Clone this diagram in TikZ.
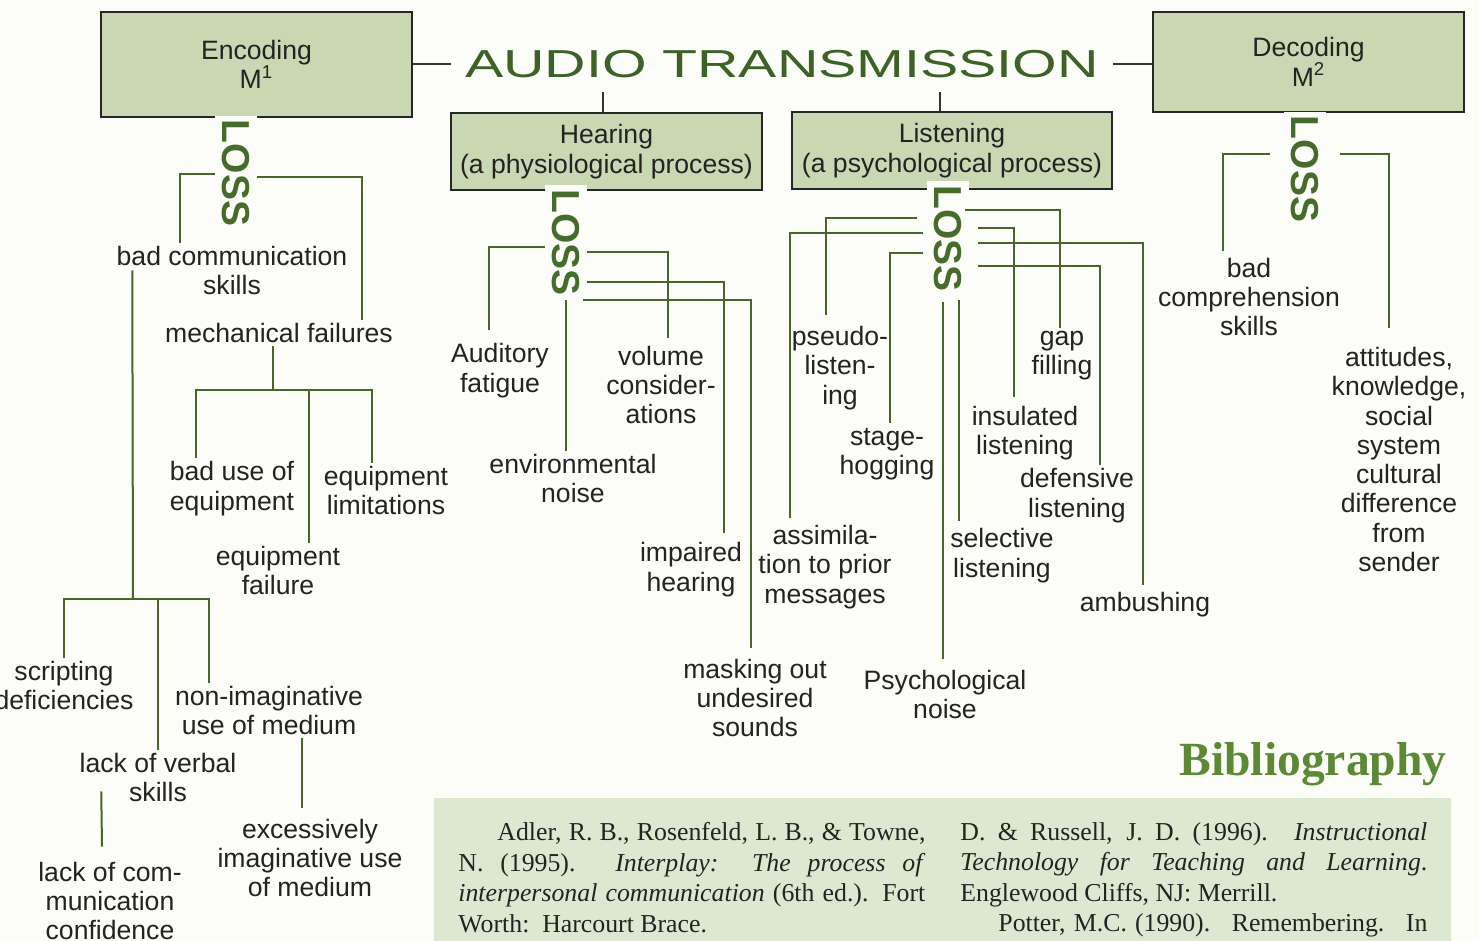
\documentclass[tikz,border=0pt]{standalone}
\usepackage{fontspec}
\setmainfont{Liberation Sans}
\newfontfamily\bibserif{Liberation Serif}
\usepackage{graphicx}
\usetikzlibrary{calc}

\definecolor{pagebg}{RGB}{252,252,248}
\definecolor{boxfill}{RGB}{201,216,178}
\definecolor{linkgreen}{RGB}{72,102,40}
\definecolor{titlegreen}{RGB}{60,98,38}
\definecolor{lossgreen}{RGB}{70,108,44}
\definecolor{bibgreen}{RGB}{92,138,52}
\definecolor{bibfill}{RGB}{221,232,209}
\definecolor{txtgray}{RGB}{35,35,35}

\newcommand{\lblfont}{\fontsize{13.3}{14.65}\selectfont}
\newcommand{\bibtext}{\bibserif\fontsize{12.9}{15.25}\selectfont\tolerance=10000\hyphenpenalty=10000}

\tikzset{
  stagebox/.style={draw=black!85,line width=1pt,fill=boxfill,align=center,
    text=txtgray,font=\lblfont,inner sep=0pt},
  lbl/.style={align=center,text=txtgray,font=\lblfont,inner sep=1.5pt},
  loss/.style={rotate=-90,fill=pagebg,text=lossgreen,
    font=\fontsize{19.5}{20}\selectfont\bfseries,inner xsep=2pt,inner ysep=3.5pt},
  link/.style={draw=linkgreen,line width=1pt},
  rule/.style={draw=black!80,line width=1pt},
  bibcol/.style={text width=233.5pt,align=justify,font=\bibtext,text=txtgray,
    inner sep=0pt,anchor=north west}
}

\begin{document}
\begin{tikzpicture}[x=0.5pt,y=-0.5pt]
  \fill[pagebg] (0,0) rectangle (1479,941);
  \useasboundingbox (0,0) rectangle (1479,941);

  % stages
  \node[stagebox,minimum width=155.5pt,minimum height=52.5pt] (encbox) at (256.5,64.5) {Encoding\\M\textsuperscript{1}};
  \node[stagebox,minimum width=155.5pt,minimum height=50pt] (decbox) at (1308.5,62) {Decoding\\M\textsuperscript{2}};
  \node[text=titlegreen,font=\fontsize{19.5}{20}\selectfont,inner xsep=7pt,inner ysep=7pt] (title) at (782,64)
    {\scalebox{1.47}[1]{AUDIO TRANSMISSION}};
  \node[stagebox,minimum width=155.5pt,minimum height=38.5pt] (hearbox) at (606.5,151.5) {Hearing\\(a physiological process)};
  \node[stagebox,minimum width=160pt,minimum height=38.5pt] (listbox) at (952,150.5) {Listening\\(a psychological process)};

  \draw[rule] (encbox.east |- title.west) -- (title.west);
  \draw[rule] (title.east) -- (title.east -| decbox.west);
  \coordinate (heartick) at ($(hearbox.north)+(-4,0)$);
  \coordinate (listtick) at ($(listbox.north)+(-12,0)$);
  \draw[rule] (heartick) -- (heartick |- title.south);
  \draw[rule] (listtick) -- (listtick |- title.south);

  \node[loss] (encloss) at (236,173) {LOSS};
  \node[loss] (hearloss) at (566,242.5) {LOSS};
  \node[loss] (listloss) at (948,238.5) {LOSS};
  \node[loss] (decloss) at (1305,169) {LOSS};

  % encoding losses
  \node[lbl] (bcs) at (232,270.5) {bad communication\\skills};
  \node[lbl] (mf) at (279,333) {mechanical failures};
  \node[lbl] (bue) at (232,488.5) {bad use of\\equipment};
  \node[lbl] (eql) at (386,490.5) {equipment\\limitations};
  \node[lbl] (eqf) at (278,570.5) {equipment\\failure};
  \node[lbl] (sd) at (64,685.5) {scripting\\deficiencies};
  \node[lbl] (nim) at (269,710.5) {non-imaginative\\use of medium};
  \node[lbl] (lvs) at (158,777.5) {lack of verbal\\skills};
  \node[lbl] (lcc) at (110,901) {lack of com-\\munication\\confidence};
  \node[lbl] (eiu) at (310,858) {excessively\\imaginative use\\of medium};

  \draw[link] ($(encloss.south)+(0,1)$) -| ($(bcs.north)+(-52,0)$);
  \draw[link] ($(encloss.north)+(0,4)$) -| ($(mf.north)+(83,0)$);
  \coordinate (encsplit) at (133,599);
  \draw[link] ($(bcs.west)+(19,0)$) -- (encsplit);
  \draw[link] (sd.north) |- (encsplit) -| ($(nim.north)+(-60,0)$);
  \draw[link] (lvs.north) |- (encsplit);
  \coordinate (mfsplit) at (273,390);
  \draw[link] ($(mf.south)+(-6,0)$) -- (mfsplit);
  \draw[link] ($(bue.north)+(-36,0)$) |- (mfsplit) -| ($(eql.north)+(-14,0)$);
  \draw[link] ($(eqf.north)+(31,0)$) |- (mfsplit);
  \draw[link] ($(lvs.west)+(25,14)$) -- ($(lcc.north)+(-8,-12)$);
  \draw[link] ($(nim.south)+(33,0)$) -- ($(eiu.north)+(-8,-8)$);

  % hearing losses
  \node[lbl] (af) at (500,370.5) {Auditory\\fatigue};
  \node[lbl] (vc) at (661,385) {volume\\consider-\\ations};
  \node[lbl] (en) at (573,478.5) {environmental\\noise};
  \node[lbl] (ih) at (691,569.5) {impaired\\hearing};
  \node[lbl] (mo) at (755,698) {masking out\\undesired\\sounds};

  \draw[link] ($(hearloss.south)+(0,5)$) -| ($(af.north)+(-11,-10)$);
  \draw[link] ($(hearloss.north)+(0,10)$) -| ($(vc.north)+(7,-5)$);
  \draw[link] ($(hearloss.north)+(0,40)$) -| ($(ih.north)+(33,-6)$);
  \draw[link] ($(hearloss.east)+(17,0)$) -| ($(mo.north)+(-4,-8)$);
  \draw[link] (hearloss.east) -- (hearloss.east |- en.north);

  % listening losses
  \node[lbl] (pl) at (840,368) {pseudo-\\listen-\\ing};
  \node[lbl] (sh) at (887,454.5) {stage-\\hogging};
  \node[lbl] (atp) at (825,567) {assimila-\\tion to prior\\messages};
  \node[lbl] (pn) at (945,694.5) {Psychological\\noise};
  \node[lbl] (sl) at (1002,555.5) {selective\\listening};
  \node[lbl] (gf) at (1062,355.5) {gap\\filling};
  \node[lbl] (il) at (1025,433) {insulated\\listening};
  \node[lbl] (dfl) at (1077,495.5) {defensive\\listening};
  \node[lbl] (amb) at (1145,605) {ambushing};

  \draw[link] ($(listloss.south)+(-10,-20)$) -| ($(pl.north)+(-14,-8)$);
  \draw[link] ($(listloss.south)+(-4,-5)$) -| ($(atp.north)+(-35,-4)$);
  \draw[link] ($(listloss.south)+(-4,15)$) -| ($(sh.north)+(3,-2)$);
  \draw[link] ($(listloss.east)+(-5,6)$) -- ($(pn.north)+(-2,-8)$);
  \draw[link] ($(listloss.east)+(11,4)$) -- ($(sl.north)+(-43,-4)$);
  \draw[link] ($(listloss.north)+(-4,-28)$) -| ($(gf.north)+(-2,0)$);
  \draw[link] ($(listloss.north)+(9,-10)$) -| ($(il.north)+(-11,-6)$);
  \draw[link] ($(listloss.north)+(9,5)$) -| ($(amb.north)+(-2,-4)$);
  \draw[link] ($(listloss.north)+(9,28)$) -| ($(dfl.north)+(23,0)$);

  % decoding losses
  \node[lbl] (bcp) at (1249,297) {bad\\comprehension\\skills};
  \node[lbl] (att) at (1399,459.5) {attitudes,\\knowledge,\\social\\system\\cultural\\difference\\from\\sender};

  \draw[link] ($(decloss.south)+(-14,-15)$) -| ($(bcp.north)+(-26,-4)$);
  \draw[link] ($(decloss.north)+(14,-15)$) -| ($(att.north)+(-10,-16)$);

  % bibliography
  \node[font=\bibserif\fontsize{23.8}{26}\selectfont\bfseries,text=bibgreen,anchor=base east,inner sep=0pt]
    (bibhead) at (1447,775) {Bibliography};
  \fill[bibfill] (434,798) rectangle (1451,941);
  \node[bibcol] (bibleft) at (458,822)
    {\hspace*{19.5pt}Adler, R. B., Rosenfeld, L. B., \& Towne,\linebreak
     N. (1995). \textit{Interplay:\ \ The process of}\linebreak
     \textit{interpersonal communication} (6th ed.). Fort\linebreak
     Worth:\ \ Harcourt Brace.};
  \node[bibcol] (bibright) at (960,822)
    {D. \& Russell, J. D. (1996). \textit{Instructional}\linebreak
     \textit{Technology for Teaching and Learning}.\linebreak
     Englewood Cliffs, NJ: Merrill.\par
     \hspace*{19pt}Potter, M.C. (1990). \ Remembering. \ In\parfillskip=0pt\par};
\end{tikzpicture}
\end{document}
